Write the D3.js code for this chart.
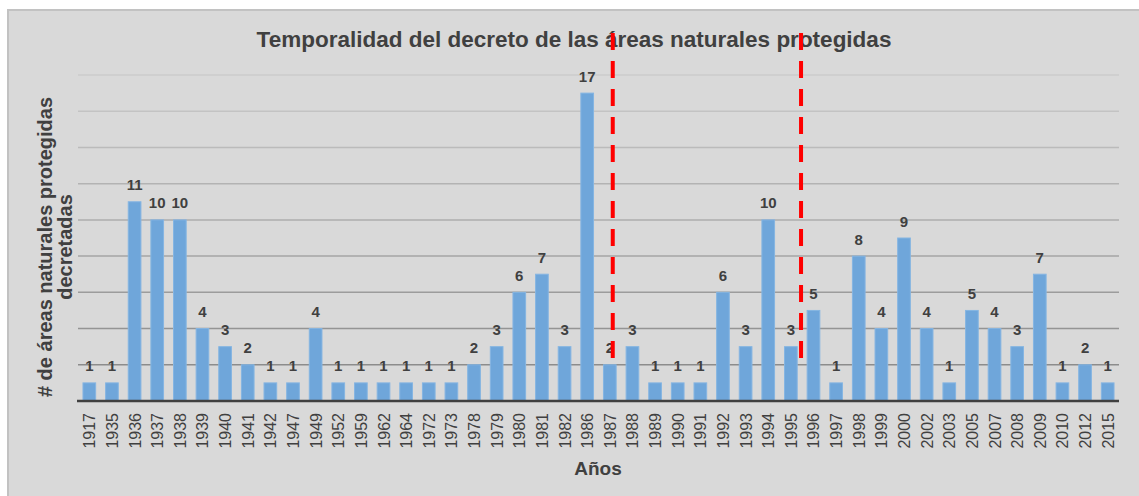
<!DOCTYPE html>
<meta charset="utf-8" />
<script src="https://d3js.org/d3.v7.min.js"></script>
<style>
  body { margin: 0; background: #ffffff; }
  text { font-family: "Liberation Sans", Arial, Helvetica, sans-serif; }
</style>
<body>
  <div id="my_dataviz"></div>
</body>
<script>
  // data
  const years = ["1917","1935","1936","1937","1938","1939","1940","1941","1942","1947",
                 "1949","1952","1959","1962","1964","1972","1973","1978","1979","1980",
                 "1981","1982","1986","1987","1988","1989","1990","1991","1992","1993",
                 "1994","1995","1996","1997","1998","1999","2000","2002","2003","2005",
                 "2007","2008","2009","2010","2012","2015"];
  const counts = [1,1,11,10,10,4,3,2,1,1,
                  4,1,1,1,1,1,1,2,3,6,
                  7,3,17,2,3,1,1,1,6,3,
                  10,3,5,1,8,4,9,4,1,5,
                  4,3,7,1,2,1];
  const gridValues = [2,4,6,8,10,12,14,16,18];
  // years next to which the red dashed marks were drawn
  const markYears = ["1987","1995"];
  const markOffsets = [0.63, 0.95]; // share of one step after the band start

  const width = 1139, height = 496;
  const plot = {left: 78, right: 1119, top: 75, bottom: 401};

  const svg = d3.select("#my_dataviz")
    .append("svg")
      .attr("width", width)
      .attr("height", height);

  // chart frame
  svg.append("rect")
    .attr("x", 8).attr("y", 10)
    .attr("width", width + 10).attr("height", height)
    .attr("fill", "#d9d9d9")
    .attr("stroke", "#c2c2c2")
    .attr("stroke-width", 2);

  const x = d3.scaleBand()
    .domain(years)
    .range([plot.left, plot.right])
    .paddingInner(0.44)
    .paddingOuter(0.22);

  const y = d3.scaleLinear()
    .domain([0, 18])
    .range([plot.bottom, plot.top]);

  // gridlines get lighter towards the top
  const gridColor = d3.scaleLinear().domain([2, 18]).range(["#8c8c8c", "#cbcbcb"]);
  svg.append("g")
    .selectAll("line")
    .data(gridValues)
    .enter()
    .append("line")
      .attr("x1", plot.left)
      .attr("x2", plot.right)
      .attr("y1", d => y(d))
      .attr("y2", d => y(d))
      .attr("stroke", d => gridColor(d))
      .attr("stroke-width", 1.5);

  // bars
  const data = years.map((yr, i) => ({year: yr, value: counts[i]}));
  svg.append("g")
    .selectAll("rect")
    .data(data)
    .enter()
    .append("rect")
      .attr("x", d => x(d.year))
      .attr("y", d => y(d.value))
      .attr("width", x.bandwidth())
      .attr("height", d => y(0) - y(d.value))
      .attr("fill", "#6fa6da")
      .attr("stroke", "#85b5e2")
      .attr("stroke-width", 1);

  // value labels
  svg.append("g")
    .selectAll("text")
    .data(data)
    .enter()
    .append("text")
      .attr("x", d => x(d.year) + x.bandwidth() / 2)
      .attr("y", d => y(d.value) - 11.5)
      .attr("text-anchor", "middle")
      .attr("font-size", "15px")
      .attr("font-weight", "bold")
      .attr("fill", "#404040")
      .text(d => d.value);

  // x axis line and tick labels
  svg.append("line")
    .attr("x1", plot.left - 1).attr("x2", plot.right)
    .attr("y1", y(0)).attr("y2", y(0))
    .attr("stroke", "#404040")
    .attr("stroke-width", 2.5);

  svg.append("g")
    .selectAll("text")
    .data(years)
    .enter()
    .append("text")
      .attr("transform", d => "translate(" + (x(d) + x.bandwidth() / 2 + 6) + "," + (y(0) + 12) + ") rotate(-90)")
      .attr("text-anchor", "end")
      .attr("font-size", "16px")
      .attr("fill", "#404040")
      .text(d => d);

  // titles
  svg.append("text")
    .attr("x", 574).attr("y", 47)
    .attr("text-anchor", "middle")
    .attr("font-size", "22.5px")
    .attr("font-weight", "bold")
    .attr("fill", "#404040")
    .text("Temporalidad del decreto de las áreas naturales protegidas");

  svg.append("text")
    .attr("x", 598).attr("y", 475)
    .attr("text-anchor", "middle")
    .attr("font-size", "19px")
    .attr("font-weight", "bold")
    .attr("fill", "#404040")
    .text("Años");

  const yTitle = svg.append("text")
    .attr("transform", "translate(52,247) rotate(-90)")
    .attr("text-anchor", "middle")
    .attr("font-size", "20px")
    .attr("font-weight", "bold")
    .attr("fill", "#404040");
  yTitle.append("tspan").attr("x", 0).attr("y", 0).text("# de áreas naturales protegidas");
  yTitle.append("tspan").attr("x", 0).attr("y", 20).text("decretadas");

  // red dashed marks
  svg.append("g")
    .selectAll("line")
    .data(markYears)
    .enter()
    .append("line")
      .attr("x1", (d, i) => x(d) - x.step() * x.paddingInner() / 2 + x.step() * markOffsets[i])
      .attr("x2", (d, i) => x(d) - x.step() * x.paddingInner() / 2 + x.step() * markOffsets[i])
      .attr("y1", 33)
      .attr("y2", 358)
      .attr("stroke", "#ff0000")
      .attr("stroke-width", 4)
      .attr("stroke-dasharray", "17,11");
</script>
